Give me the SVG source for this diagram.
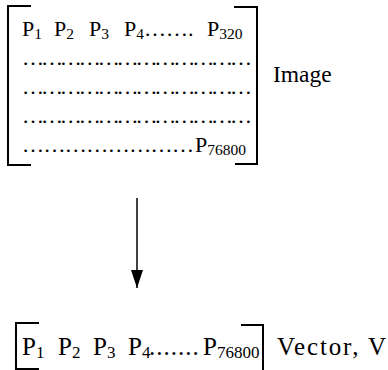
<svg xmlns="http://www.w3.org/2000/svg" width="388" height="370" viewBox="0 0 388 370">
  <style>
    text { font-family: "Liberation Serif", "Times New Roman", serif; fill: #000; }
    .m { font-size: 22px; }
    .s { font-size: 15.5px; }
    .vm { font-size: 25px; }
    .vs { font-size: 17px; }
    .br { fill: none; stroke: #000; stroke-width: 2; }
    .ln { stroke: #000; stroke-width: 1.5; fill: none; }
  </style>
  <defs>
    <marker id="ah" viewBox="0 0 18 12" refX="18" refY="6" markerWidth="18" markerHeight="12" markerUnits="userSpaceOnUse" orient="auto">
      <path d="M0,0 L18,6 L0,12 Z" fill="#000"/>
    </marker>
  </defs>

  <!-- image matrix: 240 rows x 320 pixels -->
  <g id="image-matrix">
    <path class="br" d="M31,6 H8 V165 H31"/>
    <path class="br" d="M234,7 H257 V164 H235"/>
    <text class="m" y="36"><tspan x="22">P</tspan><tspan class="s" dy="3">1</tspan><tspan x="54" dy="-3">P</tspan><tspan class="s" dy="3">2</tspan><tspan x="89" dy="-3">P</tspan><tspan class="s" dy="3">3</tspan><tspan x="124" dy="-3">P</tspan><tspan class="s" dy="3">4</tspan><tspan dy="-3">…….</tspan><tspan x="207">P</tspan><tspan class="s" dy="3">320</tspan></text>
    <text class="m" x="22" y="65" textLength="230" lengthAdjust="spacing">………………………………</text>
    <text class="m" x="22" y="94" textLength="230" lengthAdjust="spacing">………………………………</text>
    <text class="m" x="22" y="123" textLength="230" lengthAdjust="spacing">………………………………</text>
    <text class="m" y="152"><tspan x="22" textLength="172" lengthAdjust="spacing">……………………</tspan><tspan x="195">P</tspan><tspan class="s" dy="3">76800</tspan></text>
  </g>

  <g id="image-label">
    <text x="273" y="82" font-size="23.5">Image</text>
  </g>

  <!-- connector -->
  <g id="connectors">
    <line class="ln" x1="137" y1="198" x2="137" y2="288" marker-end="url(#ah)"/>
  </g>

  <!-- vector of 76800 pixels -->
  <g id="vector">
    <path class="br" d="M39,323 H16 V369 H39"/>
    <path class="br" d="M241,325 H263 V372"/>
    <text class="vm" y="355"><tspan x="22">P</tspan><tspan class="vs" dy="3">1</tspan><tspan x="58" dy="-3">P</tspan><tspan class="vs" dy="3">2</tspan><tspan x="93" dy="-3">P</tspan><tspan class="vs" dy="3">3</tspan><tspan x="128" dy="-3">P</tspan><tspan class="vs" dy="3">4</tspan><tspan x="149" dy="-3" letter-spacing="1">.......</tspan><tspan x="203">P</tspan><tspan class="vs" dy="3">76800</tspan></text>
  </g>

  <g id="vector-label">
    <text class="vm" x="277" y="355" textLength="109" lengthAdjust="spacing">Vector, V</text>
  </g>
</svg>
